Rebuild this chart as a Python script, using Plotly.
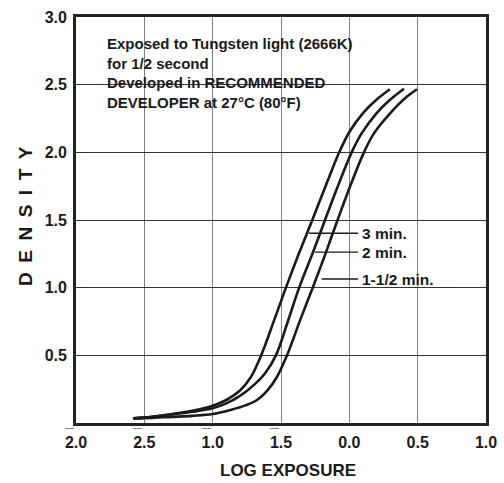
import plotly.graph_objects as go

# ---- data ----
x_tickvals = [-2.0, -1.5, -1.0, -0.5, 0.0, 0.5, 1.0]
x_ticktext = ["2.0", "2.5", "1.0", "1.5", "0.0", "0.5", "1.0"]
x_tick_bar = [True, True, True, True, False, False, False]   # "bar" (negative characteristic) notation
y_tickvals = [0.5, 1.0, 1.5, 2.0, 2.5, 3.0]
y_ticktext = ["0.5", "1.0", "1.5", "2.0", "2.5", "3.0"]

x_3min = [-1.58, -1.5, -1.3, -1.15, -1.0, -0.9, -0.8, -0.72, -0.645, -0.55, -0.464, -0.37, -0.271, -0.17, -0.074, 0.0, 0.1, 0.2, 0.297]
d_3min = [0.035, 0.04, 0.065, 0.09, 0.128, 0.17, 0.24, 0.34, 0.5, 0.76, 1.0, 1.25, 1.5, 1.76, 2.0, 2.15, 2.29, 2.39, 2.466]

x_2min = [-1.58, -1.5, -1.3, -1.15, -1.0, -0.9, -0.8, -0.7, -0.615, -0.537, -0.45, -0.367, -0.27, -0.178, -0.08, 0.017, 0.09, 0.2, 0.3, 0.4]
d_2min = [0.035, 0.04, 0.063, 0.083, 0.109, 0.145, 0.2, 0.28, 0.37, 0.5, 0.75, 1.0, 1.25, 1.5, 1.76, 2.0, 2.14, 2.29, 2.39, 2.47]

x_15min = [-1.58, -1.5, -1.3, -1.15, -1.0, -0.87, -0.76, -0.676, -0.6, -0.53, -0.456, -0.36, -0.268, -0.175, -0.086, 0.01, 0.107, 0.18, 0.3, 0.42, 0.495]
d_15min = [0.033, 0.035, 0.045, 0.053, 0.066, 0.096, 0.13, 0.17, 0.24, 0.34, 0.5, 0.76, 1.0, 1.25, 1.5, 1.76, 2.0, 2.14, 2.29, 2.41, 2.466]

series = [
    ("3 min.", x_3min, d_3min),
    ("2 min.", x_2min, d_2min),
    ("1-1/2 min.", x_15min, d_15min),
]

# leader lines for curve labels: start x, density, end x
leader_start_x = [-0.296, -0.252, -0.203]
leader_y = [1.402, 1.262, 1.064]
leader_end_x = 0.063

note_lines = [
    "Exposed to Tungsten light (2666K)",
    "for 1/2 second",
    "Developed in RECOMMENDED",
    "DEVELOPER at 27\u00b0C (80\u00b0F)",
]

x_title = "LOG EXPOSURE"
y_title = "DENSITY"

FONT = "Liberation Sans, Arial, Helvetica, sans-serif"
INK = "#1a1a1a"

fig = go.Figure()
for name, xs, ds in series:
    fig.add_trace(go.Scatter(x=xs, y=ds, mode="lines", name=name,
                             line=dict(color=INK, width=2.6, shape="spline", smoothing=1.0),
                             hoverinfo="skip", showlegend=False))

for (name, _, _), sx, ly in zip(series, leader_start_x, leader_y):
    fig.add_trace(go.Scatter(x=[sx, leader_end_x], y=[ly, ly], mode="lines",
                             line=dict(color=INK, width=1.3),
                             hoverinfo="skip", showlegend=False))
    fig.add_annotation(x=leader_end_x, y=ly, text="<b>" + name + "</b>", showarrow=False,
                       xanchor="left", yanchor="middle", xshift=2,
                       font=dict(family=FONT, size=15.5, color=INK))

fig.add_annotation(x=-1.785, y=2.885, xref="x", yref="y",
                   text="<br>".join("<b>" + s + "</b>" for s in note_lines),
                   showarrow=False, xanchor="left", yanchor="top", align="left",
                   font=dict(family=FONT, size=15, color=INK))

# bar over the characteristic digit of the negative log values
for tv, bar in zip(x_tickvals, x_tick_bar):
    if bar:
        fig.add_annotation(x=tv, y=-0.0197, xref="x", yref="paper", text="<b>_</b>",
                           showarrow=False, xanchor="center", yanchor="bottom", xshift=-6.6,
                           borderpad=0, font=dict(family=FONT, size=16, color=INK))

# axis titles as annotations (fixed positions)
fig.add_annotation(x=0.517, y=-0.118, xref="paper", yref="paper", text="<b>" + x_title + "</b>",
                   showarrow=False, xanchor="center", yanchor="middle",
                   font=dict(family=FONT, size=17, color=INK))
fig.add_annotation(x=-0.122, y=0.51, xref="paper", yref="paper",
                   text="<b>" + "\u2002".join(y_title) + "</b>", textangle=-90,
                   showarrow=False, xanchor="center", yanchor="middle",
                   font=dict(family=FONT, size=19, color=INK))

fig.update_layout(
    width=504, height=483,
    margin=dict(l=76, r=18, t=17, b=60, autoexpand=False),
    plot_bgcolor="white", paper_bgcolor="white",
    font=dict(family=FONT, size=15, color=INK),
    xaxis=dict(range=[-2, 1], tickvals=x_tickvals, ticktext=["<b>" + t + "</b>" for t in x_ticktext],
               showgrid=True, gridcolor="#808080", gridwidth=1.2, zeroline=False,
               showline=True, linecolor="#222222", linewidth=2.8, mirror=True, ticks="",
               tickfont=dict(size=16), automargin=False, ticklabelstandoff=3),
    yaxis=dict(range=[0, 3], tickvals=y_tickvals, ticktext=["<b>" + t + "</b>" for t in y_ticktext],
               showgrid=True, gridcolor="#333333", gridwidth=1.1, zeroline=False,
               showline=True, linecolor="#222222", linewidth=2.8, mirror=True, ticks="",
               tickfont=dict(size=16), automargin=False, ticklabelstandoff=3),
)

fig.write_html("out.html")
